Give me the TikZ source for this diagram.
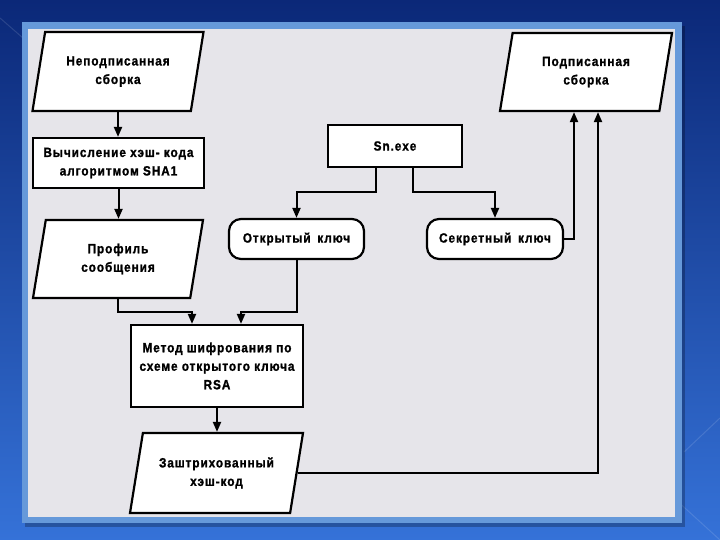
\documentclass[tikz,border=0pt]{standalone}
\usepackage{fontspec}
\usetikzlibrary{shapes.geometric,arrows.meta,positioning,calc}
\newfontfamily\boxfont{Liberation Sans}[FakeStretch=0.88,LetterSpace=7,FakeBold=1.2]
\definecolor{slidetop}{HTML}{0B2878}
\definecolor{slidebottom}{HTML}{3572D8}
\definecolor{panelframe}{HTML}{6699DA}
\definecolor{panelgray}{HTML}{E6E5EA}

\begin{document}
\begin{tikzpicture}[x=1pt, y=-1pt,
    every node/.style={font=\boxfont\bfseries\fontsize{13.4}{18.5}\selectfont, align=center, inner sep=0pt},
    procbox/.style={draw, line width=2.2pt, fill=white},
    databox/.style={draw, line width=2.2pt, fill=white, trapezium, trapezium left angle=67.5,
        trapezium right angle=112.5, trapezium stretches body},
    keybox/.style={draw, line width=2.2pt, fill=white, rounded corners=12pt},
    flow/.style={line width=2pt, -{Triangle[length=10pt,width=8pt]}}]
    \useasboundingbox (0,0) rectangle (720,540);

    % --- slide background ---
    \shade[top color=slidetop, bottom color=slidebottom] (0,0) rectangle (720,540);
    \draw[white, opacity=0.12, line width=1pt] (0,18) -- (62,72);
    \draw[white, opacity=0.12, line width=1pt] (652,478) -- (720,540);
    \draw[white, opacity=0.12, line width=1pt] (684,452) -- (720,418);
    \fill[black, opacity=0.25] (25,26) rectangle (685,527);
    \fill[panelframe] (22,22) rectangle (682,523);
    \fill[panelgray] (28,29) rectangle (675,517);

    % --- left column ---
    \node[databox, minimum width=171pt, minimum height=79pt] (unsigned) at (118,71.5) {Неподписанная\\сборка};
    \node[procbox, minimum width=171pt, minimum height=50pt] (hashcalc) at (118.5,163) {Вычисление хэш- кода\\алгоритмом SHA1};
    \node[databox, minimum width=170pt, minimum height=78pt] (digest) at (118,259) {Профиль\\сообщения};
    \node[procbox, minimum width=172pt, minimum height=82pt] (rsa) at (217,366) {Метод шифрования по\\схеме открытого ключа\\RSA};
    \node[databox, minimum width=173pt, minimum height=80pt] (hashed) at (216.5,473) {Заштрихованный\\хэш-код};

    % --- keys ---
    \node[procbox, minimum width=134pt, minimum height=42pt] (sn) at (395,146) {Sn.exe};
    \node[keybox, minimum width=135pt, minimum height=40pt] (pubkey) at (296.5,239) {Открытый\hspace{0.5em}ключ};
    \node[keybox, minimum width=136pt, minimum height=40pt] (seckey) at (495,239) {Секретный\hspace{0.5em}ключ};
    \node[databox, minimum width=172pt, minimum height=78pt] (signed) at (586,72) {Подписанная\\сборка};

    \coordinate (joinrsa) at ($(rsa.north)+(0,-12)$);
    \coordinate (splitsn) at ($(sn.south)+(0,24)$);

    % --- connectors ---
    \draw[flow] (unsigned.south) -- (unsigned.south |- hashcalc.north);
    \draw[flow] (hashcalc.south) -- (hashcalc.south |- digest.north);
    \draw[flow] (digest.south) |- ([xshift=-25pt]joinrsa) -- ([xshift=-25pt]rsa.north);
    \draw[flow] (pubkey.south) |- ([xshift=24pt]joinrsa) -- ([xshift=24pt]rsa.north);
    \draw[flow] (rsa.south) -- (rsa.south |- hashed.north);
    \draw[flow] ([xshift=-19pt]sn.south) -- ([xshift=-19pt]splitsn) -| (pubkey.north);
    \draw[flow] ([xshift=18pt]sn.south) -- ([xshift=18pt]splitsn) -| (seckey.north);
    \draw[flow] (seckey.east) -| ([xshift=-12pt]signed.south);
    \draw[flow] (hashed.east) -| ([xshift=12pt]signed.south);
\end{tikzpicture}
\end{document}
